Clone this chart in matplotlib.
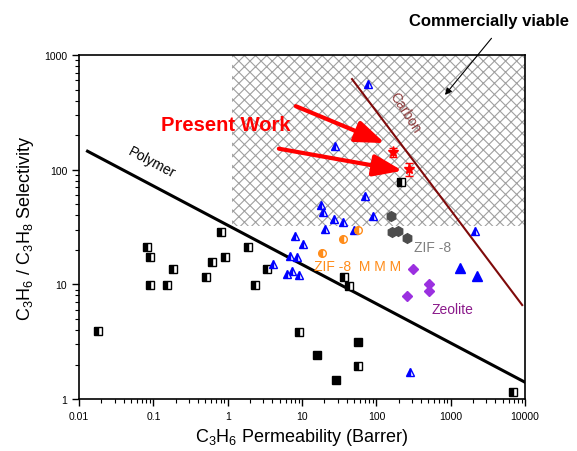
import matplotlib
matplotlib.use('Agg')
import matplotlib.pyplot as plt
from matplotlib.patches import Rectangle
from matplotlib.ticker import FixedLocator, FixedFormatter, LogLocator, NullFormatter

plt.rcParams['font.family'] = ['Liberation Sans', 'DejaVu Sans']
plt.rcParams['mathtext.fontset'] = 'custom'
plt.rcParams['mathtext.rm'] = 'Liberation Sans'
plt.rcParams['mathtext.default'] = 'regular'
plt.rcParams['hatch.linewidth'] = 0.8

# polymer membranes (half filled squares)
poly_x = [0.082, 0.090, 0.184, 0.090, 0.153, 0.018, 0.815, 0.617, 0.92, 0.51,
          1.88, 2.34, 3.39, 36.9, 43, 9.1, 56.9, 6900, 215]
poly_y = [21.1, 17.3, 13.6, 9.9, 9.9, 3.9, 28.6, 15.6, 17.3, 11.6,
          21.1, 9.9, 13.6, 11.6, 9.7, 3.84, 1.94, 1.15, 78]
# polymer membranes (filled squares)
poly2_x = [56.9, 15.9, 28.8]
poly2_y = [3.14, 2.42, 1.47]
# carbon / other (half filled triangles)
tri_x = [27.9, 77.6, 70.6, 18.1, 19.2, 27, 35.7, 90.6, 20.5, 50.2,
         8.1, 10.3, 6.9, 8.5, 4.08, 6.3, 7.4, 9.1, 2137, 285]
tri_y = [161, 557, 58.9, 49, 42.7, 37, 34.9, 39.4, 30.3, 29.7,
         26.4, 22.5, 17.7, 17.3, 15, 12.3, 13.1, 12.1, 29.2, 1.72]
# filled triangles
tri2_x = [1343, 2277]
tri2_y = [13.9, 11.8]
# ZIF-8 MMM
mmm_x = [56.9, 35.7, 18.7]
mmm_y = [29.7, 24.8, 18.8]
# ZIF-8 membranes
zif_x = [158, 164, 197, 260]
zif_y = [39.4, 28.6, 29.2, 25.3]
# zeolite
zeo_x = [313, 514, 514, 260]
zeo_y = [13.6, 10.1, 8.75, 7.9]
# present work
pw_x = [168, 277]
pw_y = [142, 101]
pw_err = [12, 13]

# upper bound lines
polymer_line_x = [0.013, 10000]
polymer_line_y = [145, 1.4]
carbon_line_x = [47, 9150]
carbon_line_y = [617, 6.6]

# commercially viable region
viable_x = [1.15, 10000]
viable_y = [32, 1000]

x_ticks = [0.01, 0.1, 1, 10, 100, 1000, 10000]
x_labels = ['0.01', '0.1', '1', '10', '100', '1000', '10000']
y_ticks = [1, 10, 100, 1000]
y_labels = ['1', '10', '100', '1000']

fig = plt.figure(figsize=(5.77, 4.52), dpi=100)
ax = fig.add_axes([0.137, 0.115, 0.773, 0.761])
ax.set_xscale('log')
ax.set_yscale('log')
ax.set_xlim(0.01, 10000)
ax.set_ylim(1, 1000)

ax.add_patch(Rectangle((viable_x[0], viable_y[0]), viable_x[1] - viable_x[0], viable_y[1] - viable_y[0],
                       facecolor='none', edgecolor='#a0a0a0', linewidth=0, hatch='xxx', zorder=0))

ax.plot(polymer_line_x, polymer_line_y, color='black', lw=2.2, zorder=2)
ax.plot(carbon_line_x, carbon_line_y, color='#7f0a0a', lw=1.5, zorder=2)

ax.plot(poly_x, poly_y, 's', ms=5.5, color='black', fillstyle='left',
        markerfacecoloralt='white', mew=1, zorder=3)
ax.plot(poly2_x, poly2_y, 's', ms=5.5, color='black', zorder=3)
ax.plot(tri_x, tri_y, '^', ms=6, color='#0000ff', fillstyle='left',
        markerfacecoloralt='white', mew=1, zorder=3)
ax.plot(tri2_x, tri2_y, '^', ms=6.5, color='#0000ff', zorder=3)
ax.plot(mmm_x, mmm_y, 'o', ms=5.5, color='#ff8c1a', fillstyle='left',
        markerfacecoloralt='white', mew=1, zorder=3)
ax.plot(zif_x, zif_y, 'h', ms=7, color='#4d4d4d', zorder=3)
ax.plot(zeo_x, zeo_y, 'D', ms=5.5, color='#9b30e0', zorder=3)
ax.errorbar(pw_x, pw_y, yerr=pw_err, fmt='*', ms=8, color='red', ecolor='red',
            elinewidth=1, capsize=3, zorder=4)

# arrows pointing at present work
ax.annotate('', xy=(140, 167), xytext=(7.6, 366),
            arrowprops=dict(arrowstyle='-|>,head_length=0.8,head_width=0.3', color='red',
                            lw=3, mutation_scale=22))
ax.annotate('', xy=(244, 97), xytext=(4.48, 154),
            arrowprops=dict(arrowstyle='-|>,head_length=0.8,head_width=0.3', color='red',
                            lw=3, mutation_scale=22))
ax.annotate('', xy=(792, 430), xytext=(3733, 1462), annotation_clip=False,
            arrowprops=dict(arrowstyle='-|>', color='black', lw=0.8, mutation_scale=10))

ax.text(0.95, 250, 'Present Work', color='red', fontsize=14.5, fontweight='bold',
        ha='center', va='center')
ax.text(0.096, 116, 'Polymer', fontsize=10, rotation=-28, ha='center', va='center')
ax.text(244, 318, 'Carbon', fontsize=10, color='#8b3a3a', rotation=-57, ha='center', va='center')
ax.text(564, 21.1, 'ZIF -8', fontsize=10, color='#808080', ha='center', va='center')
ax.text(55, 14.4, 'ZIF -8  M M M', fontsize=10, color='#ff8c1a', ha='center', va='center')
ax.text(1047, 6.1, 'Zeolite', fontsize=10, color='#8b1a8b', ha='center', va='center')
ax.text(3296, 2015, 'Commercially viable', fontsize=12, fontweight='bold',
        ha='center', va='center', clip_on=False)

ax.xaxis.set_major_locator(FixedLocator(x_ticks))
ax.xaxis.set_major_formatter(FixedFormatter(x_labels))
ax.yaxis.set_major_locator(FixedLocator(y_ticks))
ax.yaxis.set_major_formatter(FixedFormatter(y_labels))
ax.xaxis.set_minor_locator(LogLocator(base=10, subs=range(2, 10), numticks=20))
ax.yaxis.set_minor_locator(LogLocator(base=10, subs=range(2, 10), numticks=20))
ax.xaxis.set_minor_formatter(NullFormatter())
ax.yaxis.set_minor_formatter(NullFormatter())
ax.tick_params(which='major', direction='out', length=5, width=1, labelsize=7.5, colors='black')
ax.tick_params(which='minor', direction='out', length=3, width=0.8)
for s in ax.spines.values():
    s.set_linewidth(1.2)

ax.set_xlabel(r'C$_3$H$_6$ Permeability (Barrer)', fontsize=13, labelpad=4)
ax.set_ylabel(r'C$_3$H$_6$ / C$_3$H$_8$ Selectivity', fontsize=13, labelpad=6)

fig.savefig('out.png', dpi=100)
